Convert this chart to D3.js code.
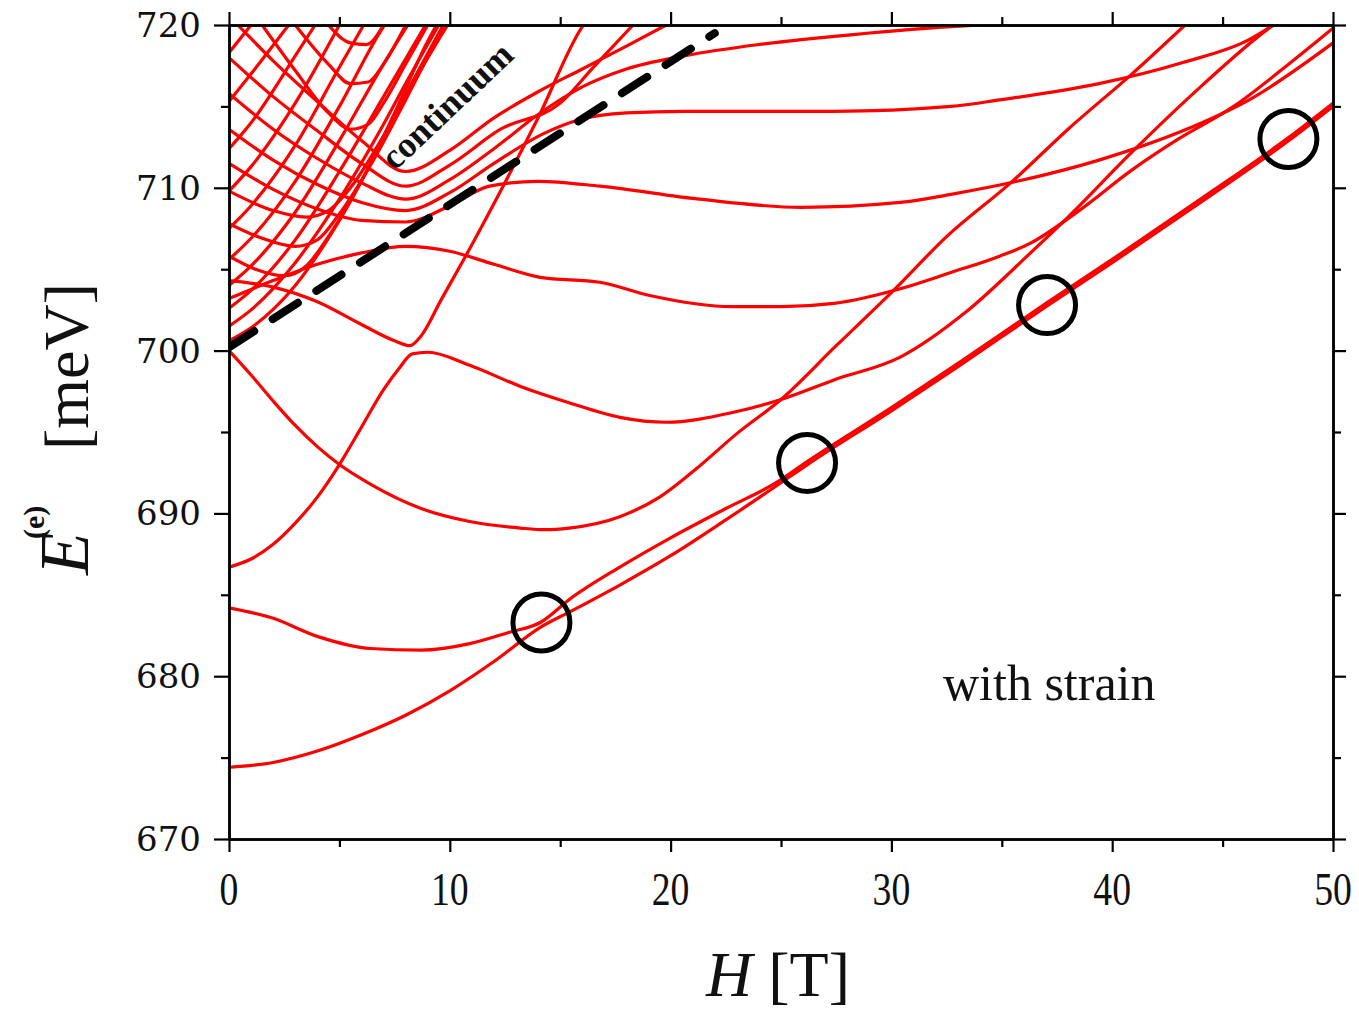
<!DOCTYPE html>
<html><head><meta charset="utf-8">
<script src="https://cdn.jsdelivr.net/npm/d3@7"></script>
<style>body{margin:0;background:#fff}svg{display:block}</style>
</head><body>
<svg id="c" width="1359" height="1014"></svg>
<script>
// ---- axis ticks ----
const xTicks = [0, 10, 20, 30, 40, 50];
const xMinorTicks = [5, 15, 25, 35, 45];
const yTicks = [670, 680, 690, 700, 710, 720];
const yMinorTicks = [675, 685, 695, 705, 715];

// ---- energy levels [H (T), E (meV)] ----
const curveA = [[0,674.4],[2,674.7],[4,675.4],[6,676.4],[8,677.6],[10,679.1],[12,680.9],[14.1,683.0],[15.5,684.0],[17.7,685.6],[20,687.4],[22.5,689.6],[24.8,691.7],[26.2,693.0],[30,696.3],[33,699.0],[37,702.7],[40,705.4],[44,709.1],[48,712.9],[50,715.0]];
const curveB = [[0,684.2],[1.9,683.6],[4.1,682.4],[6.4,681.7],[8.7,681.6],[10.9,682.0],[12.7,682.7],[14.1,683.3],[15.5,684.8],[17.7,686.7],[20,688.5],[22.5,690.3],[24.8,691.9],[26.2,693.2],[30,696.5],[33,699.2],[37,702.9],[40,705.6],[44,709.3],[48,713.1],[50,715.2]];
const curveC = [[0,700.0],[1,698.5],[2,696.9],[3,695.4],[4,694.1],[5,693.0],[6.4,691.8],[8.7,690.3],[10.9,689.5],[13.2,689.1],[14.3,689.0],[15.4,689.1],[17.7,689.8],[19.5,691.0],[21.3,692.9],[23,694.9],[25,697.0],[27.5,700.3],[30.1,703.7],[32.5,707.0],[35.4,710.3],[38,713.6],[40.9,717.0],[43.3,720]];
const curveFD = [[0,686.7],[1,687.2],[2,688.1],[3,689.4],[4,691.0],[5,693.0],[6,695.3],[7,697.6],[7.7,698.9],[8.3,699.8],[9.0,699.9],[10.9,699.1],[13.2,697.8],[15.4,696.8],[17.7,695.9],[19.8,695.6],[22.8,696.2],[25,697.0],[27.4,698.2],[30.4,699.6],[33.4,702.4],[36.3,706.0],[38,708.2],[40.9,712.2],[44,716.2],[47,719.7],[47.3,720]];
const curveG = [[0,704.3],[2,703.9],[4,703.0],[6,701.6],[7.5,700.6],[8.2,700.3],[8.7,700.9],[9.6,703.1],[11,706.5],[12.3,709.8],[14,714.3],[16,719.9],[16.05,720]];
const curveJ = [[0,703.2],[2,704.3],[4,705.3],[6,706.0],[8,706.4],[10,706.1],[12,705.3],[14.1,704.5],[16.8,704.2],[19,703.4],[22.8,702.7],[25,702.7],[27.4,702.9],[30.4,703.8],[32.7,704.8],[34.9,705.8],[36.3,706.6],[38.5,708.6],[40.9,711.1],[43,713.0],[45.5,715.0],[48,717.6],[50,719.8]];
const curveH = [[0,711.5],[2,709.9],[4,708.7],[6,708.0],[8,707.9],[10,708.9],[11.8,710.1],[14,710.4],[16.8,710.1],[21.3,709.3],[25.9,708.8],[30.4,709.1],[32.7,709.6],[35.7,710.4],[39.4,711.7],[43.2,713.5],[46.2,715.4],[50,718.9]];
const curveI = [[0,713.6],[2,711.7],[4,710.2],[6,709.1],[8,708.6],[10,709.7],[12,711.5],[14.2,713.3],[15.9,714.2],[18,714.6],[20.6,714.7],[27.4,714.7],[32.7,715.0],[34.9,715.4],[39.4,716.4],[43.2,717.7],[46.2,719.1],[47.3,720]];
const curveK = [[0,715.8],[2,713.6],[4,711.8],[6,710.3],[8,709.3],[10,710.5],[12,712.4],[14,714.5],[16,716.2],[18,717.3],[20.6,718.1],[24,718.8],[27.4,719.3],[32.7,719.9],[34,720]];
const curveU4 = [[0,718.0],[2,715.6],[4,713.5],[6,711.5],[8,710.1],[10,711.4],[12.3,713.6],[15,715.2],[16.5,717.4],[18.3,720]];
const curveU5 = [[0.4,720],[2,717.8],[4,715.3],[6,712.9],[8,711.0],[10,712.3],[12,714.3],[14,715.9],[16,717.3],[18,718.7],[19.8,720]];
const curveU6 = [[1.5,720],[3,717.2],[4.5,714.6],[5.5,713.6],[6.3,713.9],[7,715.2],[8,717.6],[9,720]];
const curveU7 = [[3,720],[4.5,717.6],[5.5,716.4],[6.3,716.5],[7,717.6],[8,720]];
const curveU8 = [[4.5,720],[5.5,718.9],[6.2,718.8],[7,720]];
const curveV1 = [[0,705.8],[1.2,705.0],[2.5,704.6],[3.5,705.2],[4.5,707.0],[6,710.4],[7.5,714.6],[9,719.0],[9.4,720]];
const curveV2 = [[0,707.8],[1.5,706.9],[3,706.4],[4,706.8],[5,708.4],[6.5,711.6],[8,715.4],[9.5,719.3],[9.8,720]];
const curveV3 = [[0,709.8],[2,708.6],[3.5,708.2],[4.5,708.6],[5.5,710.0],[7,713.2],[8.5,717.0],[9.7,720]];
const curveS1 = [[0,700.6],[1,701.4],[3,704.0],[5,708.0],[7,713.0],[8,715.6],[9.9,720]];
const curveS2 = [[0,701.5],[1,702.5],[3,705.4],[5,709.3],[7,713.9],[8,716.4],[9.5,720]];
const curveS3 = [[0,702.6],[1,703.7],[3,706.8],[5,711.0],[7,715.6],[8.9,720]];
const curveS4 = [[0,704.0],[1,705.2],[3,708.5],[5,712.9],[7,717.6],[8.1,720]];
const curveS5 = [[0,705.6],[1,706.9],[3,710.4],[5,715.0],[7,719.9],[7.05,720]];
const curveS6 = [[0,707.5],[1,708.9],[3,712.6],[5,717.4],[6.1,720]];
const curveS7 = [[0,709.8],[1,711.3],[3,715.2],[5,720]];
const curveS8 = [[0,712.4],[1,714.0],[3,718.1],[3.9,720]];
const curveS9 = [[0,715.3],[1,717.0],[2.7,720]];
const curveS10 = [[0,718.3],[1,720]];

const levels = [curveA, curveB, curveC, curveFD, curveG, curveJ, curveH, curveI, curveK,
  curveU4, curveU5, curveU6, curveU7, curveU8, curveV1, curveV2, curveV3,
  curveS1, curveS2, curveS3, curveS4, curveS5, curveS6, curveS7, curveS8, curveS9, curveS10];

// continuum edge (dashed) and marked anticrossings (circles)
const continuumEdge = [[0,700.2],[22,719.5]];
const circleH = [14.15, 26.18, 37.05, 47.98];
const circleE = [683.3, 693.1, 702.8, 713.0];

const svg = d3.select('#c');
const x = d3.scaleLinear([0,50],[229,1333]);
const y = d3.scaleLinear([670,720],[839,25]);

svg.append('defs').append('clipPath').attr('id','plot')
  .append('rect').attr('x',229).attr('y',25).attr('width',1104).attr('height',814);

const line = d3.line().x(d=>x(d[0])).y(d=>y(d[1])).curve(d3.curveMonotoneX);

const g = svg.append('g').attr('clip-path','url(#plot)');
g.selectAll('path.lvl').data(levels).join('path')
  .attr('class','lvl').attr('d',line)
  .attr('fill','none').attr('stroke','#ff0000').attr('stroke-width',3.2)
  .attr('stroke-linejoin','round');

g.append('path').attr('d', d3.line().x(d=>x(d[0])).y(d=>y(d[1]))(continuumEdge))
  .attr('fill','none').attr('stroke','#000').attr('stroke-width',8)
  .attr('stroke-dasharray','30,22').attr('stroke-linecap','round');

svg.selectAll('circle.mk').data(circleH).join('circle')
  .attr('class','mk').attr('cx',d=>x(d)).attr('cy',(d,i)=>y(circleE[i])).attr('r',28.5)
  .attr('fill','none').attr('stroke','#000').attr('stroke-width',5);

// ---- axes (frame + outward ticks on all four sides) ----
const axG = svg.append('g');
const mk = (axisFn, scale, vals, len, tr) => {
  const gg = axG.append('g').attr('transform', tr).call(axisFn(scale).tickValues(vals).tickSize(len).tickFormat('').tickSizeOuter(0));
  gg.select('.domain').attr('stroke','#000').attr('stroke-width',2.5);
  gg.selectAll('.tick line').attr('stroke','#000').attr('stroke-width',2.2);
};
mk(d3.axisBottom, x, xTicks, 13, 'translate(0,839)');
mk(d3.axisBottom, x, xMinorTicks, 8, 'translate(0,839)');
mk(d3.axisTop, x, xTicks, 13, 'translate(0,25)');
mk(d3.axisTop, x, xMinorTicks, 8, 'translate(0,25)');
mk(d3.axisLeft, y, yTicks, 15, 'translate(229,0)');
mk(d3.axisLeft, y, yMinorTicks, 8, 'translate(229,0)');
mk(d3.axisRight, y, yTicks, 13, 'translate(1333,0)');
mk(d3.axisRight, y, yMinorTicks, 8, 'translate(1333,0)');

// tick labels
svg.selectAll('text.xl').data(xTicks).join('text').attr('class','xl')
  .attr('transform', d=>`translate(${x(d)},905) scale(0.82,1)`)
  .attr('text-anchor','middle').attr('font-family','Liberation Serif')
  .attr('font-size',46).attr('fill','#111').text(d=>d);
svg.selectAll('text.yl').data(yTicks).join('text').attr('class','yl')
  .attr('x',201).attr('y',d=>y(d)+12)
  .attr('text-anchor','end').attr('font-family','DejaVu Serif')
  .attr('font-size',34).attr('fill','#111').text(d=>d);

// axis titles
const xt = svg.append('text').attr('x',778).attr('y',996).attr('text-anchor','middle')
  .attr('font-family','Liberation Serif').attr('font-size',64).attr('fill','#111');
xt.append('tspan').attr('font-style','italic').text('H');
xt.append('tspan').text(' [T]');

const yt = svg.append('g').attr('transform','translate(88,575) rotate(-90)')
  .attr('font-family','Liberation Serif').attr('fill','#111');
yt.append('text').attr('x',0).attr('y',0).attr('font-size',70).attr('font-style','italic').text('E');
yt.append('text').attr('x',36).attr('y',-44).attr('font-size',30).attr('font-weight','bold').text('(e)');
yt.append('text').attr('x',125).attr('y',0).attr('font-size',64).text('[meV]');

// annotations
svg.append('text').attr('transform','translate(449,108) rotate(-43.4)')
  .attr('text-anchor','middle').attr('dy',9)
  .attr('font-family','Liberation Serif').attr('font-weight','bold')
  .attr('font-size',36).attr('fill','#111').text('continuum');
svg.append('text').attr('x',943).attr('y',700)
  .attr('font-family','Liberation Serif').attr('font-size',50).attr('fill','#111').text('with strain');
</script>
</body></html>
